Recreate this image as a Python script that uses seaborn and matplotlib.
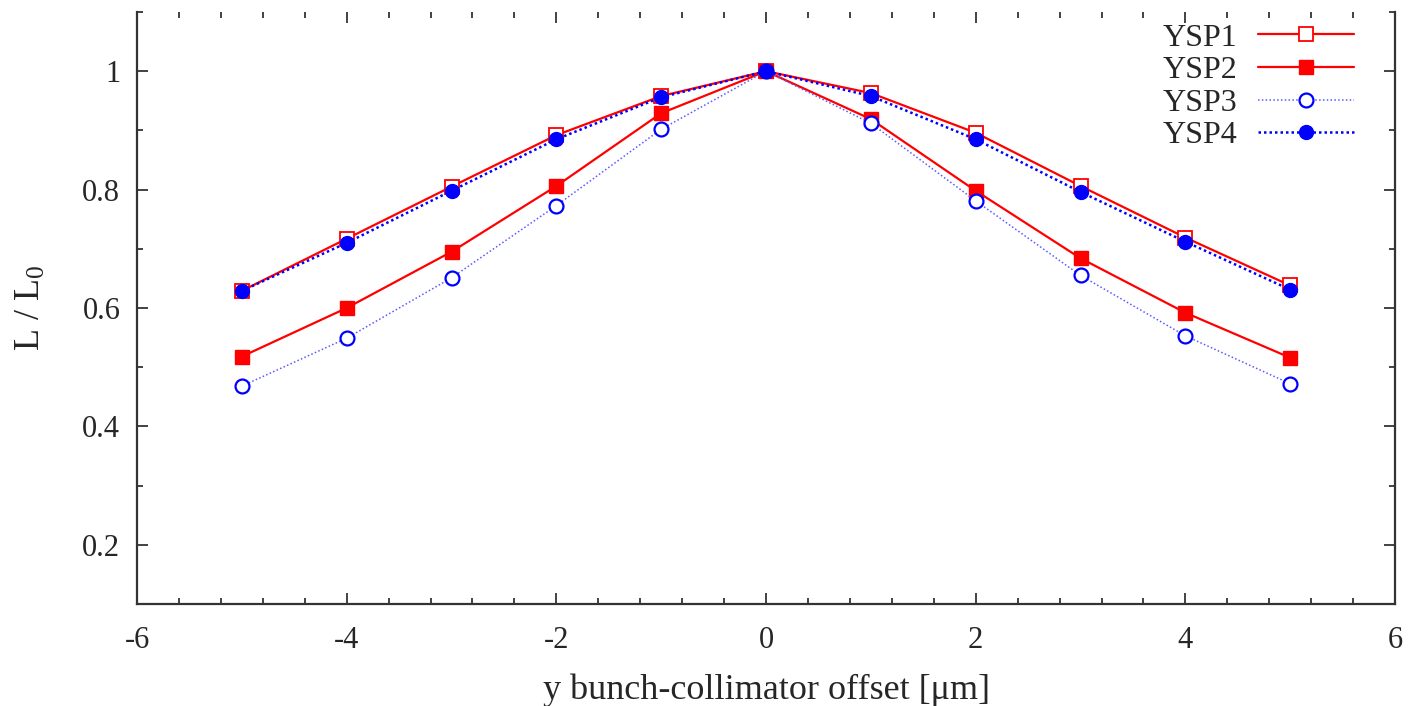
import matplotlib
matplotlib.use("Agg")
import matplotlib.pyplot as plt
import seaborn as sns
import pandas as pd
from matplotlib.ticker import MultipleLocator, FuncFormatter

offsets = [-5, -4, -3, -2, -1, 0, 1, 2, 3, 4, 5]
ysp1 = [0.629, 0.717, 0.805, 0.892, 0.958, 1.0, 0.963, 0.896, 0.806, 0.719, 0.638]
ysp2 = [0.518, 0.600, 0.695, 0.806, 0.929, 1.0, 0.919, 0.798, 0.684, 0.592, 0.516]
ysp3 = [0.468, 0.549, 0.651, 0.773, 0.902, 1.0, 0.912, 0.781, 0.655, 0.553, 0.472]
ysp4 = [0.629, 0.710, 0.798, 0.885, 0.956, 1.0, 0.958, 0.885, 0.796, 0.712, 0.631]
series_names = ["YSP1", "YSP2", "YSP3", "YSP4"]

sns.set_theme(style="ticks")
plt.rcParams['font.family'] = ['Liberation Serif', 'DejaVu Serif']
plt.rcParams['mathtext.fontset'] = 'custom'
plt.rcParams['mathtext.rm'] = 'Liberation Serif'
plt.rcParams['mathtext.it'] = 'Liberation Serif:italic'
plt.rcParams['axes.unicode_minus'] = False

fig = plt.figure(figsize=(14.11, 7.06), dpi=100)
ax = fig.add_axes([0.0971, 0.1445, 0.9887 - 0.0971, 0.983 - 0.1445])

styles = {
    "YSP1": dict(color="#ff0000", linestyle="-", linewidth=1.6, marker="s", markersize=10,
                 markerfacecolor="white", markeredgecolor="#ff0000", markeredgewidth=1.3),
    "YSP2": dict(color="#ff0000", linestyle="-", linewidth=1.6, marker="s", markersize=10,
                 markerfacecolor="#ff0000", markeredgecolor="#ff0000", markeredgewidth=1.0),
    "YSP3": dict(color="#5a5aff", linestyle=(0, (1, 1.5)), linewidth=1.1, marker="o", markersize=10,
                 markerfacecolor="white", markeredgecolor="#0000ff", markeredgewidth=1.6),
    "YSP4": dict(color="#0000ff", linestyle=(0, (1, 1.2)), linewidth=1.8, marker="o", markersize=10,
                 markerfacecolor="#0000ff", markeredgecolor="#0000ff", markeredgewidth=1.0),
}
data = {"YSP1": ysp1, "YSP2": ysp2, "YSP3": ysp3, "YSP4": ysp4}

for name in series_names:
    df = pd.DataFrame({"x": offsets, "y": data[name]})
    st = styles[name]
    sns.lineplot(data=df, x="x", y="y", ax=ax, label=name, **st)

ax.set_xlim(-6, 6)
ax.set_ylim(0.1, 1.1)
ax.xaxis.set_major_locator(MultipleLocator(2))
ax.xaxis.set_minor_locator(MultipleLocator(0.4))
ax.yaxis.set_major_locator(MultipleLocator(0.2))
ax.yaxis.set_minor_locator(MultipleLocator(0.1))
fmt = FuncFormatter(lambda v, p: "%g" % round(v, 6))
ax.xaxis.set_major_formatter(fmt)
ax.yaxis.set_major_formatter(fmt)
ax.set_yticks([0.2, 0.4, 0.6, 0.8, 1.0])

ax.tick_params(which="both", direction="in", top=True, right=True, labelsize=22,
               color="#222222", width=1.2)
ax.tick_params(which="major", length=8)
ax.tick_params(which="minor", length=4)
ax.tick_params(axis="x", pad=16)
ax.tick_params(axis="y", pad=12)

for s in ["left", "bottom", "right"]:
    ax.spines[s].set_color("#333333")
    ax.spines[s].set_linewidth(1.6)
ax.spines["top"].set_visible(False)

ax.set_xlabel("y bunch-collimator offset [μm]", fontsize=26, labelpad=13)
ax.set_ylabel(r"L / L$_0$", fontsize=26, labelpad=25)

leg = ax.legend(loc="upper right", frameon=False, markerfirst=False, fontsize=23,
                handlelength=3.0, handletextpad=0.65, labelspacing=0.1,
                bbox_to_anchor=(0.967, 0.981), borderaxespad=0.0, borderpad=0.0)

fig.savefig("out.png", dpi=100)
